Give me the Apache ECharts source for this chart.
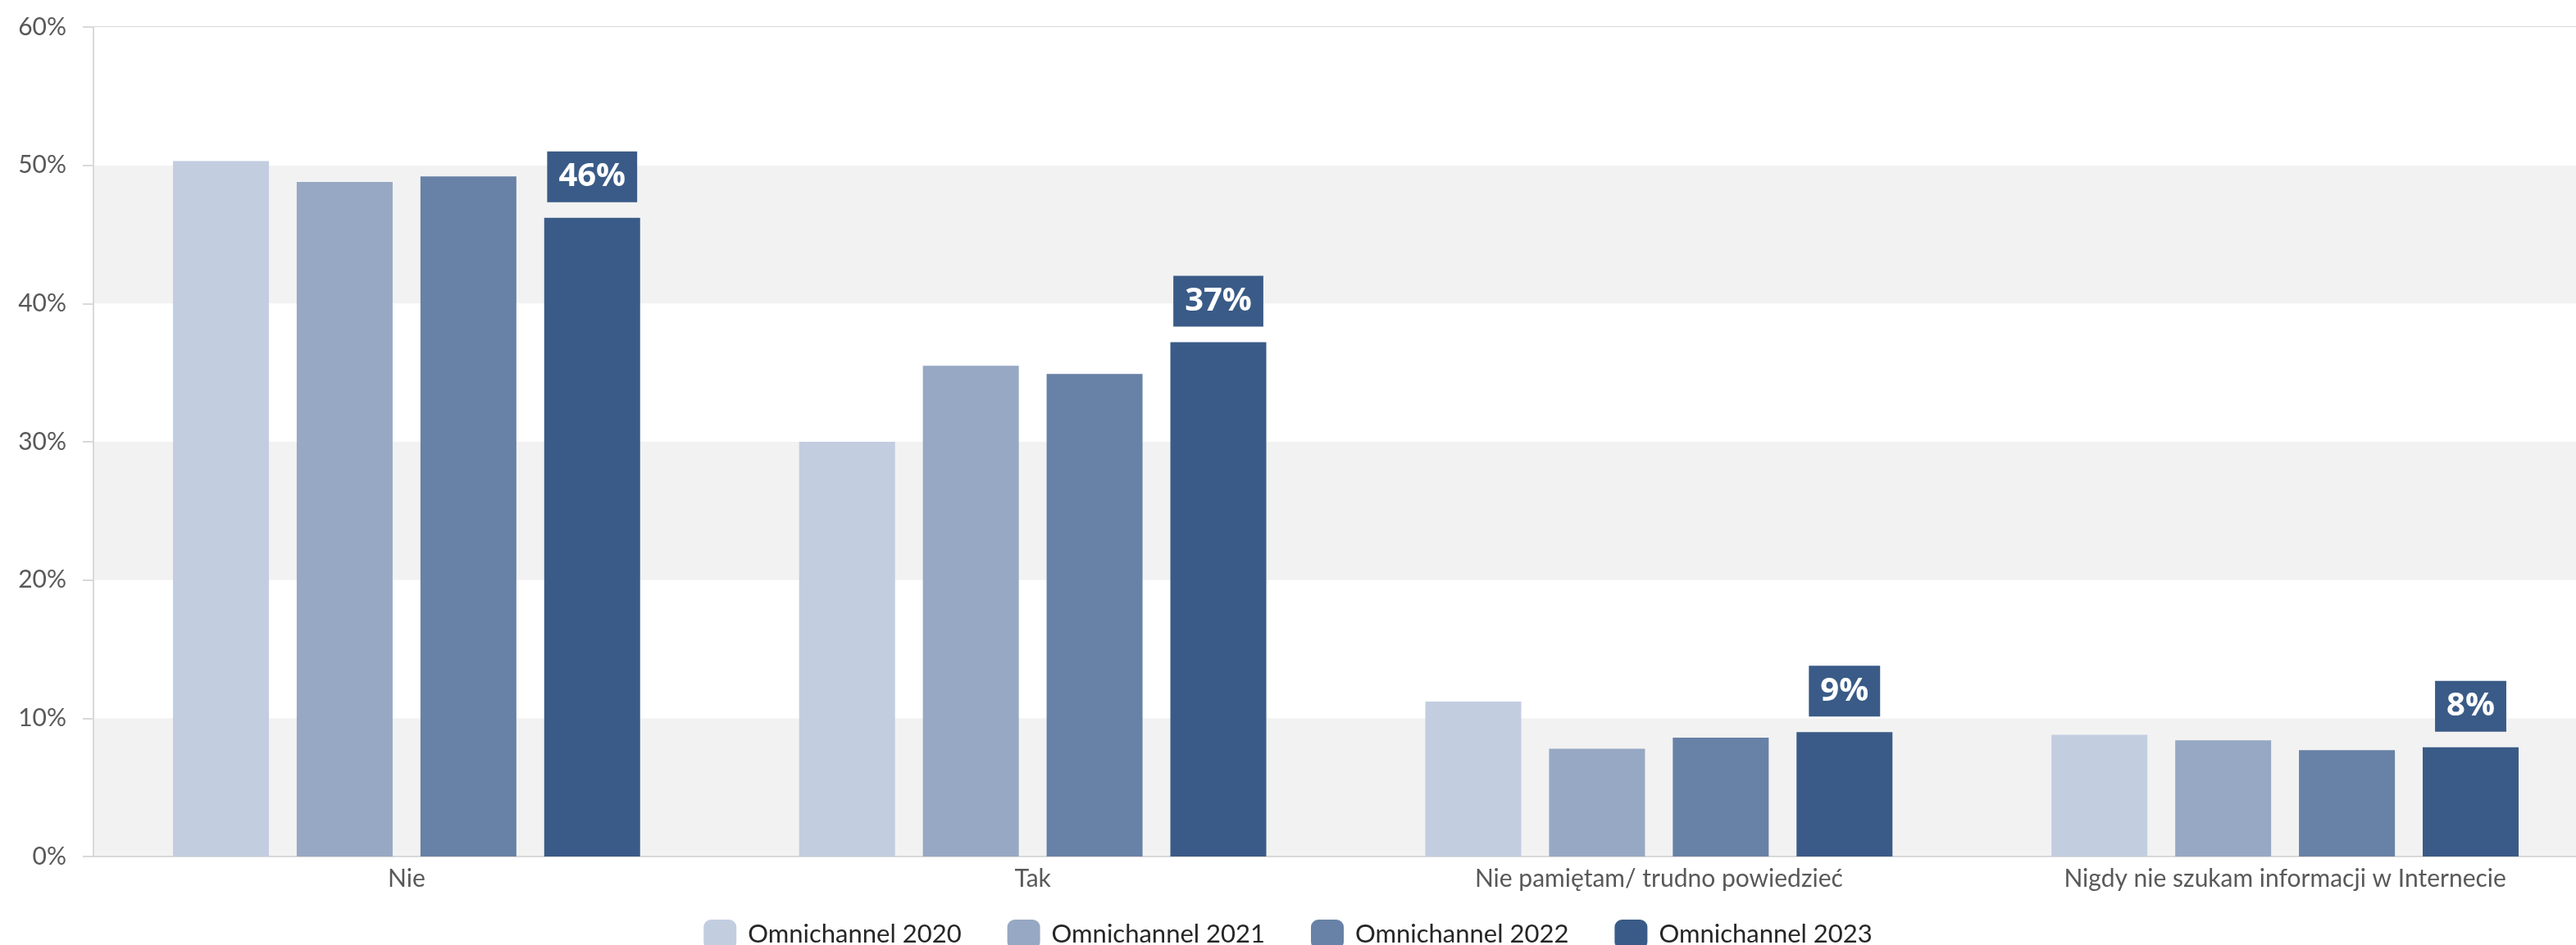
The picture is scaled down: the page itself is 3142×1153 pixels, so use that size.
<!DOCTYPE html>
<html>
<head>
<meta charset="utf-8">
<script src="https://cdn.jsdelivr.net/npm/echarts@6/dist/echarts.min.js"></script>
<style>
  html, body { margin: 0; padding: 0; background: #fff; }
  #chart { width: 3142px; height: 1153px; }
</style>
</head>
<body>
<div id="chart"></div>
<script>
// categories + values (percent)
const categories = ['Nie', 'Tak', 'Nie pamiętam/ trudno powiedzieć', 'Nigdy nie szukam informacji w Internecie']
const seriesNames = ['Omnichannel 2020', 'Omnichannel 2021', 'Omnichannel 2022', 'Omnichannel 2023']
const values2020 = [50.3, 30.0, 11.2, 8.8]
const values2021 = [48.8, 35.5, 7.8, 8.4]
const values2022 = [49.2, 34.9, 8.6, 7.7]
const values2023 = [46.2, 37.2, 9.0, 7.9]
const colors = ['#c2cde0', '#96a8c3', '#6881a6', '#3a5b87']
const yTicks = { min: 0, max: 60, interval: 10 }

const allValues = [values2020, values2021, values2022, values2023]

const chart = echarts.init(document.getElementById('chart'))

const series = allValues.map(function (vals, i) {
  const s = {
    name: seriesNames[i],
    type: 'bar',
    barWidth: 117,
    barGap: '29%',
    itemStyle: { color: colors[i] },
    data: vals
  }
  // only the last year gets labels
  if (i === 3) {
    s.label = {
      show: true,
      position: 'top',
      distance: 19,
      formatter: function (p) { return Math.round(p.value) + '%' },
      color: '#fff',
      fontFamily: 'Open Sans',
      fontWeight: 'bold',
      fontSize: 40,
      lineHeight: 40,
      backgroundColor: colors[3],
      padding: [11, 14, 11, 14]
    }
  }
  return s
})

chart.setOption({
  animation: false,
  textStyle: { fontFamily: 'Lato' },
  // plot area runs a bit past the right edge, like in the source
  grid: {
    left: 114,
    width: 3055,
    top: 33,
    bottom: 108,
    outerBoundsMode: 'none',
    show: true,
    borderColor: '#d9d9d9',
    borderWidth: 2,
    backgroundColor: 'transparent'
  },
  legend: {
    top: 1117,
    left: 'center',
    itemWidth: 40,
    itemHeight: 36,
    itemGap: 56,
    icon: 'roundRect',
    textStyle: {
      fontFamily: 'Lato',
      fontSize: 31,
      color: '#262626',
      padding: [0, 0, 0, 9]
    },
    data: seriesNames
  },
  xAxis: {
    type: 'category',
    data: categories,
    axisLine: { lineStyle: { color: '#d9d9d9', width: 2 } },
    axisTick: { alignWithLabel: true, length: 10, lineStyle: { color: '#d9d9d9', width: 2 } },
    axisLabel: { color: '#595959', fontSize: 30, margin: 12 }
  },
  yAxis: {
    type: 'value',
    min: yTicks.min,
    max: yTicks.max,
    interval: yTicks.interval,
    axisLine: { show: true, lineStyle: { color: '#d9d9d9', width: 2 } },
    axisTick: { show: true, length: 13, lineStyle: { color: '#d9d9d9', width: 2 } },
    axisLabel: { color: '#595959', fontSize: 30, margin: 33, formatter: '{value}%' },
    splitLine: { show: false },
    splitArea: { show: true, areaStyle: { color: ['#f2f2f2', '#ffffff'] } }
  },
  series: series
})
</script>
</body>
</html>
